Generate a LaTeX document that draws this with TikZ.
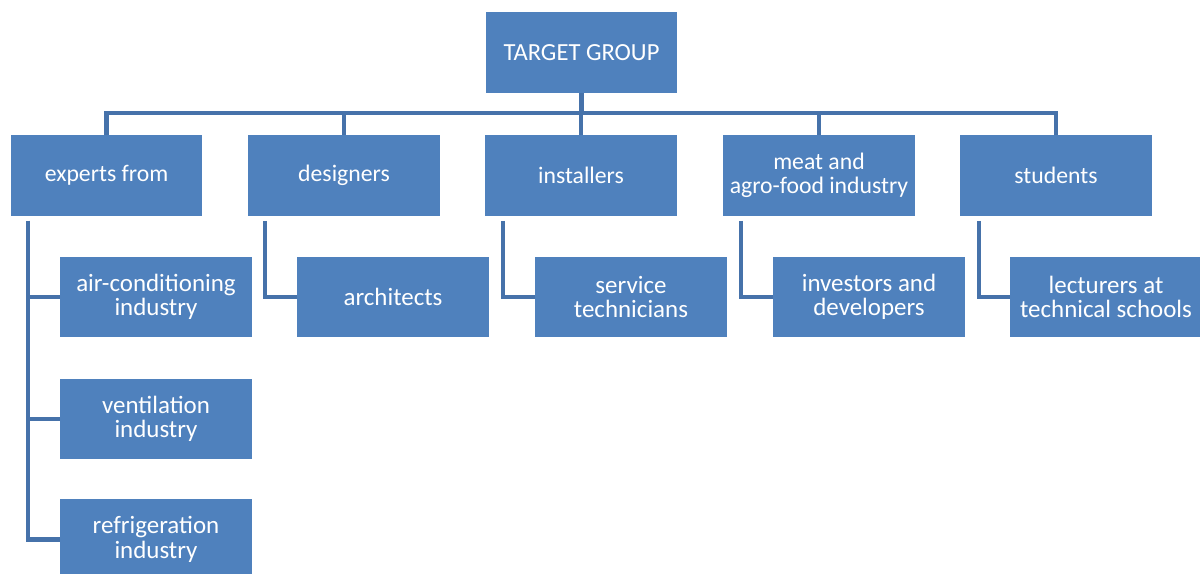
\documentclass[tikz,border=0pt]{standalone}
\usepackage{fontspec}
\setmainfont{Carlito}
\usetikzlibrary{positioning}
\definecolor{boxblue}{HTML}{4F81BD}
\definecolor{lineblue}{HTML}{4672AA}
\tikzset{
    group/.style={rectangle, fill=boxblue, text=white, minimum width=3.84cm, minimum height=1.62cm,
        inner sep=2pt, align=center, font=\fontsize{13.5}{13.5}\selectfont},
    member/.style={group, font=\fontsize{14.2}{13.8}\selectfont},
    link/.style={lineblue, line width=2.3pt},
}

\begin{document}
\begin{tikzpicture}[x=0.02cm, y=-0.02cm]
    \useasboundingbox (0,0) rectangle (1200,574);
    \node[group, font=\fontsize{14}{14}\selectfont] (top) at (581.5,52.5) {TARGET GROUP};
    \foreach \n/\x/\t in {exp/106.5/experts from, des/344/designers, ins/581/installers,
        meat/819/{meat and\\agro-food industry}, stu/1056/students}
        \node[group] (\n) at (\x,175.5) {\t};
    % second row
    \node[member] (aircon) at (156,297) {air-conditioning\\industry};
    \node[member] (vent) at (156,419) {ventilation\\industry};
    \node[member] (refr) at (156,539.5) {refrigeration\\industry};
    \foreach \n/\x/\t in {arch/393/architects, serv/631/{service\\technicians},
        inv/869/{investors and\\developers}, lect/1106/{lecturers at\\technical schools}}
        \node[member] (\n) at (\x,297) {\t};
    % tree links
    \coordinate (bus) at (0,113);
    \draw[link] (top.south) -- (top.south |- bus);
    \draw[link] (exp.north) -- (exp.north |- bus) -- (stu.north |- bus) -- (stu.north);
    \foreach \n in {des,ins,meat} \draw[link] (\n.north |- bus) -- (\n.north);
    \coordinate (expspine) at (28,221);
    \foreach \c in {aircon,vent,refr} \draw[link] (expspine) |- (\c.west);
    \foreach \p/\c/\x in {des/arch/265, ins/serv/503, meat/inv/741, stu/lect/979} {
        \coordinate (\p spine) at (\x,221);
        \draw[link] (\p spine) |- (\c.west);
    }
\end{tikzpicture}
\end{document}
